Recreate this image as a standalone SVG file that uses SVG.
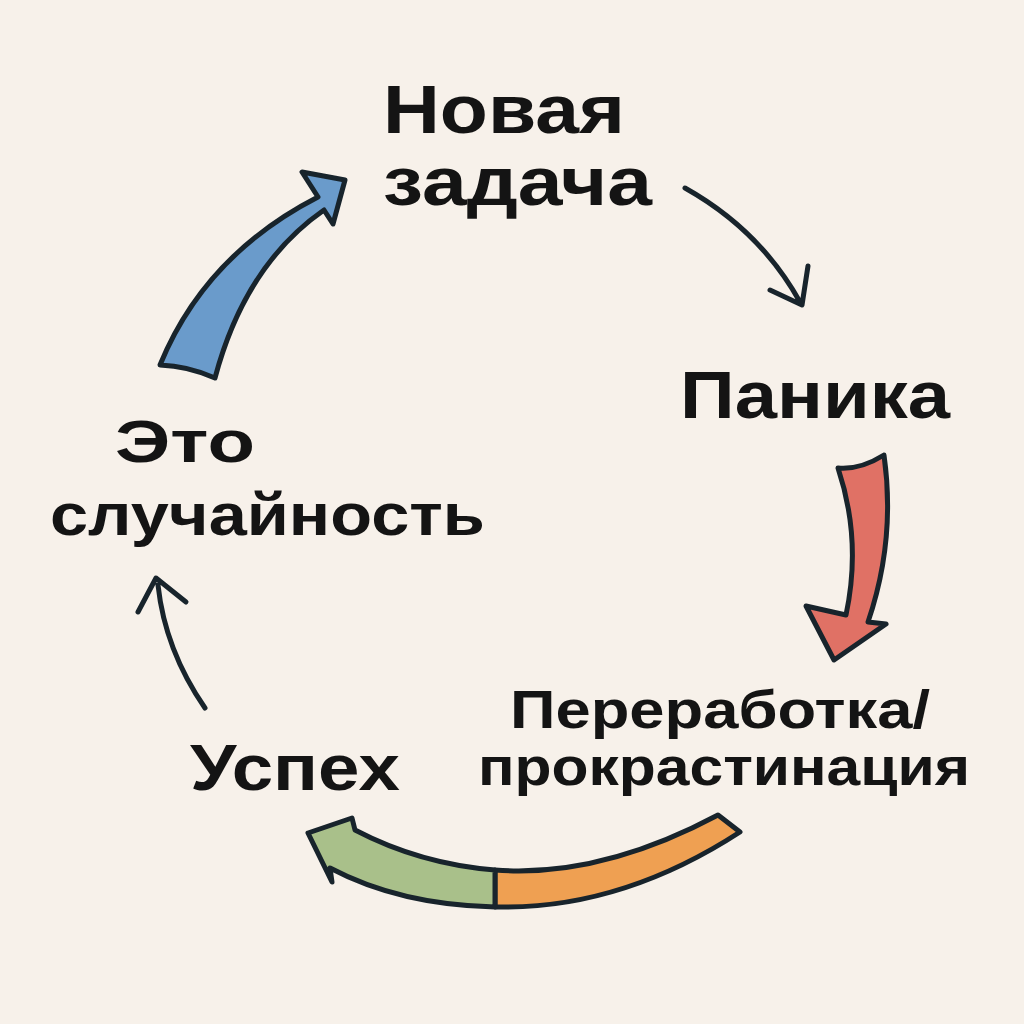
<svg xmlns="http://www.w3.org/2000/svg" width="1024" height="1024" viewBox="0 0 1024 1024">
<style>
.t{font-family:"Liberation Sans",Arial,sans-serif;font-weight:bold;fill:#141414}
.o{stroke:#18242c;stroke-width:5;stroke-linejoin:round;stroke-linecap:round}
.th{fill:none;stroke:#18242c;stroke-width:5;stroke-linecap:round;stroke-linejoin:round}
</style>
<rect width="1024" height="1024" fill="#F7F1EA"/>
<g id="connectors">
<path class="o" fill="#6A9BCB" d="M160,365 Q205,255 318,197 L302,172 L345,180 L333,224 L324,210 Q245,265 215,378 Q188,366 160,365 Z"/>
<path class="th" d="M685,188 Q760,230 800,302 M770,290 L802,305 L808,266"/>
<path class="o" fill="#E07165" d="M838,468 Q862,540 846,615 L806,606 L834,660 L886,624 L868,622 Q896,540 884,455 Q860,470 838,468 Z"/>
<path class="o" fill="#EFA052" d="M740,832 Q620,910 495,907 L495,870 Q600,878 718,815 Z"/>
<path class="o" fill="#A9C08A" d="M495,907 Q400,905 330,868 L332,882 L308,833 L352,818 L355,830 Q420,864 495,870 Z"/>
<path class="th" d="M205,708 Q165,650 158,585 M138,612 L156,578 L186,602"/>
</g>
<g id="n1"><text class="t" x="383" y="133" font-size="68" textLength="242" lengthAdjust="spacingAndGlyphs">Новая</text><text class="t" x="383" y="205" font-size="68" textLength="269" lengthAdjust="spacingAndGlyphs">задача</text></g>
<g id="n2"><text class="t" x="680" y="418" font-size="66" textLength="270" lengthAdjust="spacingAndGlyphs">Паника</text></g>
<g id="n3"><text class="t" x="510" y="728" font-size="53" textLength="420" lengthAdjust="spacingAndGlyphs">Переработка/</text><text class="t" x="478" y="785" font-size="53" textLength="492" lengthAdjust="spacingAndGlyphs">прокрастинация</text></g>
<g id="n4"><text class="t" x="190" y="790" font-size="64" textLength="210" lengthAdjust="spacingAndGlyphs">Успех</text></g>
<g id="n5"><text class="t" x="115" y="462" font-size="60" textLength="140" lengthAdjust="spacingAndGlyphs">Это</text><text class="t" x="50" y="535" font-size="60" textLength="435" lengthAdjust="spacingAndGlyphs">случайность</text></g>
</svg>
